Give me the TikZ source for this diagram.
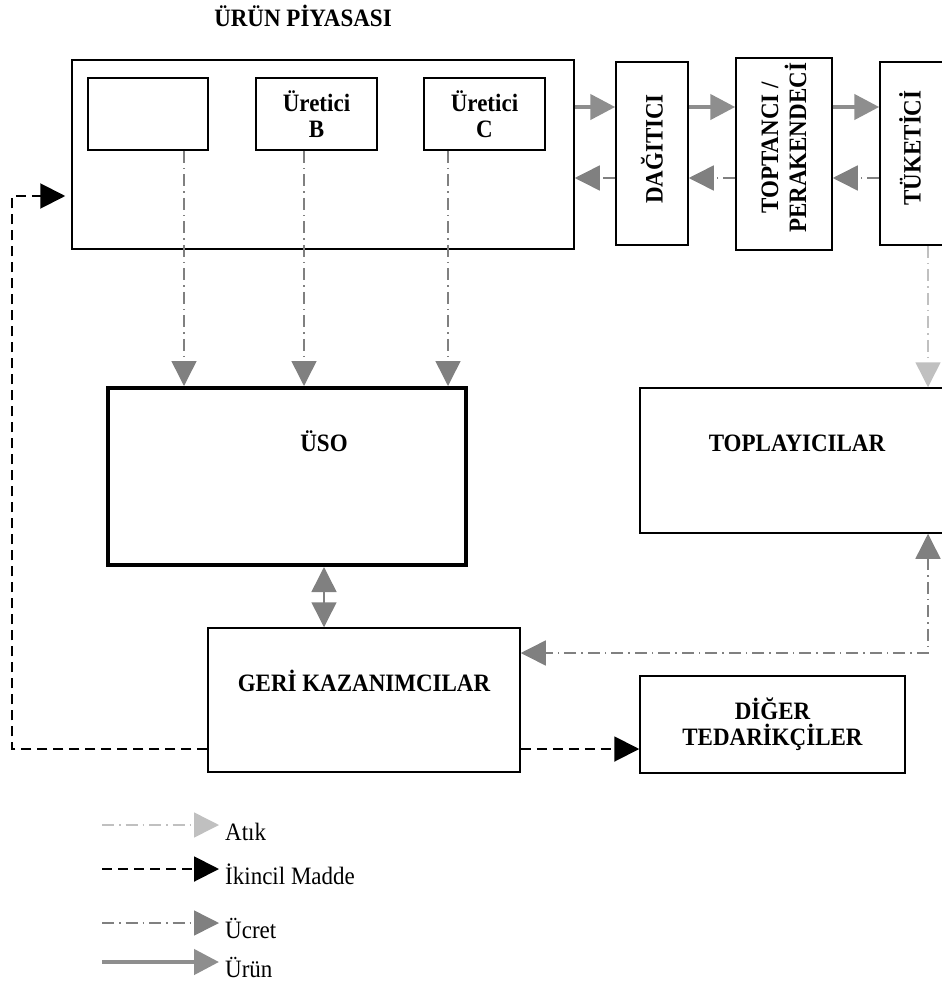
\documentclass[tikz,border=0pt]{standalone}
\usepackage{fontspec}
\setmainfont{Liberation Serif}[FakeStretch=0.92]
\usepackage{tikz}
\usetikzlibrary{arrows.meta, calc, positioning}
\definecolor{urungri}{HTML}{8E8E8E}
\definecolor{ucretgri}{HTML}{808080}
\definecolor{atikgri}{HTML}{C0C0C0}

\begin{document}
\begin{tikzpicture}[x=1pt, y=-1pt,
    kutu/.style={draw, line width=1.5pt, inner sep=0pt},
    yazi/.style={font=\fontsize{25}{26}\selectfont\bfseries, align=center, inner sep=0pt},
    etiket/.style={font=\fontsize{25}{26}\selectfont, inner sep=0pt},
    urunok/.style={draw=urungri, line width=4.5pt, -{Triangle[width=25pt, length=25pt]}},
    ucretok/.style={draw=ucretgri, line width=1.5pt, dash pattern=on 12pt off 5pt on 1.5pt off 5pt,
                    -{Triangle[width=25pt, length=25pt]}},
    atikok/.style={draw=atikgri, line width=1.5pt, dash pattern=on 12pt off 5pt on 1.5pt off 5pt,
                   -{Triangle[width=25pt, length=25pt]}},
    ikincilok/.style={draw=black, line width=2pt, dash pattern=on 10pt off 6pt,
                      -{Triangle[width=25pt, length=25pt]}}]
  \useasboundingbox (0,0) rectangle (942,985);

  % Ürün piyasası ve üreticiler
  \node[kutu, minimum width=502pt, minimum height=189pt] (piyasa) at (323,154.5) {};
  \node[yazi, anchor=base] (piyasaT) at (303,26) {ÜRÜN PİYASASI};
  \node[kutu, minimum width=120pt, minimum height=72pt] (ureticiA) at (148,114) {};
  \node[kutu, yazi, minimum width=121pt, minimum height=72pt] (ureticiB) at (316.5,114) {Üretici\\B};
  \node[kutu, yazi, minimum width=121pt, minimum height=72pt] (ureticiC) at (484.5,114) {Üretici\\C};

  % Dağıtım zinciri
  \node[kutu, minimum width=72pt, minimum height=183pt] (dagitici) at (652,153.5) {};
  \node[yazi, rotate=90] (dagiticiT) at (652,149) {DAĞITICI};
  \node[kutu, minimum width=96pt, minimum height=192pt] (toptanci) at (784,154) {};
  \node[yazi, rotate=90] (toptanciT) at (784,148) {TOPTANCI /\\[2pt]PERAKENDECİ};
  \node[kutu, minimum width=70pt, minimum height=183pt] (tuketici) at (915,153.5) {};
  \node[yazi, rotate=90] (tuketiciT) at (910,148) {TÜKETİCİ};

  % Alt kutular
  \node[kutu, line width=4pt, minimum width=358pt, minimum height=177pt] (uso) at (287,476.5) {};
  \node[yazi, anchor=base] (usoT) at (324,451) {ÜSO};
  \node[kutu, minimum width=308pt, minimum height=145pt] (toplayici) at (794,460.5) {};
  \node[yazi, anchor=base] (toplayiciT) at (797,451) {TOPLAYICILAR};
  \node[kutu, minimum width=312pt, minimum height=144pt] (geri) at (364,700) {};
  \node[yazi, anchor=base] (geriT) at (364,691) {GERİ KAZANIMCILAR};
  \node[kutu, yazi, minimum width=265pt, minimum height=97pt] (diger) at (772.5,724.5) {DİĞER\\TEDARİKÇİLER};

  % Ürün akışı
  \draw[urunok] (piyasa.east |- 0,107) -- (dagitici.west |- 0,107);
  \draw[urunok] (dagitici.east |- 0,107) -- (toptanci.west |- 0,107);
  \draw[urunok] (toptanci.east |- 0,107) -- (tuketici.west |- 0,107);

  % Ücret akışı
  \draw[ucretok] (dagitici.west |- 0,178) -- (piyasa.east |- 0,178);
  \draw[ucretok] (toptanci.west |- 0,178) -- (dagitici.east |- 0,178);
  \draw[ucretok] (tuketici.west |- 0,178) -- (toptanci.east |- 0,178);
  \foreach \kutu/\x in {ureticiA/184, ureticiB/304, ureticiC/448}
    \draw[ucretok] (\kutu.south -| \x,0) -- (uso.north -| \x,0);
  \draw[ucretok, {Triangle[width=25pt, length=25pt]}-{Triangle[width=25pt, length=25pt]}]
    (uso.south -| 324,0) -- (geri.north -| 324,0);
  \draw[ucretok, {Triangle[width=25pt, length=25pt]}-{Triangle[width=25pt, length=25pt]}]
    (toplayici.south -| 928,0) |- (geri.east |- 0,653);

  % Atık
  \draw[atikok] (tuketici.south -| 928,0) -- (toplayici.north -| 928,0);

  % İkincil madde
  \coordinate (sol) at (12,749);
  \draw[ikincilok, shorten >=6pt] (geri.west |- sol) -- (sol) |- (piyasa.west |- 0,196);
  \draw[ikincilok] (geri.east |- sol) -- (diger.west |- sol);

  % Açıklama
  \foreach \ad/\stil/\y in {Atık/atikok/825, İkincil Madde/ikincilok/869,
                            Ücret/ucretok/923, Ürün/urunok/962} {
    \coordinate (bas\y) at (102,\y);
    \coordinate (son\y) at (219,\y);
    \draw[\stil] (bas\y) -- (son\y);
    \node[etiket, anchor=base west] (ad\y) at (225,\y+15) {\ad};
  }
\end{tikzpicture}
\end{document}
